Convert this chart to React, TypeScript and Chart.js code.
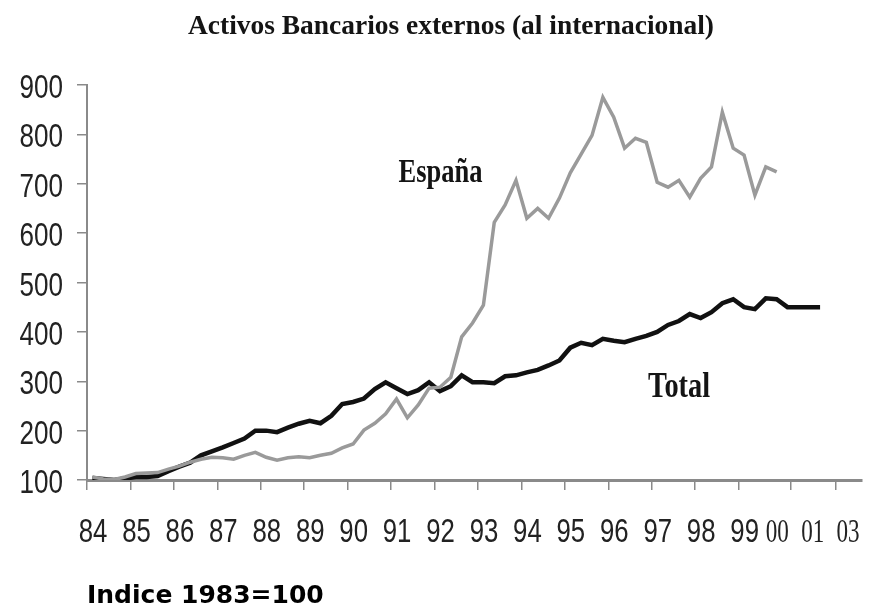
import React, { useEffect, useRef } from 'react';
import { Chart, registerables } from 'chart.js';

Chart.register(...registerables);

const TITLE = 'Activos Bancarios externos (al internacional)';
const FOOTNOTE = 'Indice 1983=100';

// Quarterly periods (year-quarter)
const periods = [
  '1984-1', '1984-2', '1984-3', '1984-4',
  '1985-1', '1985-2', '1985-3', '1985-4',
  '1986-1', '1986-2', '1986-3', '1986-4',
  '1987-1', '1987-2', '1987-3', '1987-4',
  '1988-1', '1988-2', '1988-3', '1988-4',
  '1989-1', '1989-2', '1989-3', '1989-4',
  '1990-1', '1990-2', '1990-3', '1990-4',
  '1991-1', '1991-2', '1991-3', '1991-4',
  '1992-1', '1992-2', '1992-3', '1992-4',
  '1993-1', '1993-2', '1993-3', '1993-4',
  '1994-1', '1994-2', '1994-3', '1994-4',
  '1995-1', '1995-2', '1995-3', '1995-4',
  '1996-1', '1996-2', '1996-3', '1996-4',
  '1997-1', '1997-2', '1997-3', '1997-4',
  '1998-1', '1998-2', '1998-3', '1998-4',
  '1999-1', '1999-2', '1999-3', '1999-4',
  '2000-1', '2000-2', '2000-3', '2000-4',
];

const totalValues = [
  104, 102, 100, 103,
  106, 106, 108, 118,
  127, 135, 150, 158,
  166, 175, 184, 200,
  200, 197, 206, 214,
  220, 215, 230, 254,
  258, 265, 284, 298,
  286, 274, 282, 298,
  280, 290, 312, 298,
  298, 296, 310, 312,
  318, 323, 332, 342,
  368, 378, 373, 386,
  382, 379, 386, 392,
  400, 414, 422, 436,
  428, 440, 458, 466,
  450, 446, 468, 466,
  450, 450, 450, 450,
];

const espanaValues = [
  106, 102, 101, 106,
  113, 114, 115, 122,
  128, 136, 142, 146,
  145, 142, 150, 156,
  146, 140, 145, 147,
  145, 150, 154, 165,
  173, 201, 215, 234,
  264, 226, 252, 286,
  288, 308, 390, 418,
  454, 622, 657, 707,
  630, 650, 630, 671,
  722, 760, 798, 875,
  835, 772, 792, 784,
  703, 693, 707, 673,
  711, 734, 845, 772,
  758, 677, 734, 724,
];

const yTicks = [100, 200, 300, 400, 500, 600, 700, 800, 900];
const xTickMarks = [1984, 1985, 1986, 1987, 1988, 1989, 1990, 1991, 1992, 1993, 1994, 1995, 1996, 1997, 1998, 1999, 2000.21, 2001.24];
const xLabels = ['84', '85', '86', '87', '88', '89', '90', '91', '92', '93', '94', '95', '96', '97', '98', '99', '00', '01', '03'];
const xLabelPositions = [1984, 1985, 1986, 1987, 1988, 1989, 1990, 1991, 1992, 1993, 1994, 1995, 1996, 1997, 1998, 1999, 1999.75, 2000.57, 2001.38];

const annLabels = ['España', 'Total'];
const annX = [1992.14, 1997.63];
const annY = [703, 268];

const toX = (p: string) => {
  const [y, q] = p.split('-').map(Number);
  return y + (q - 0.5) / 4;
};

function drawFitted(ctx: CanvasRenderingContext2D, text: string, cx: number, baseY: number, font: string, width: number) {
  ctx.save();
  ctx.font = font;
  const w = ctx.measureText(text).width;
  ctx.translate(cx, baseY);
  ctx.scale(width / w, 1);
  ctx.textAlign = 'center';
  ctx.textBaseline = 'alphabetic';
  ctx.fillText(text, 0, 0);
  ctx.restore();
}

function drawCondensed(ctx: CanvasRenderingContext2D, text: string, x: number, baseY: number, font: string, sx: number, align: CanvasTextAlign) {
  ctx.save();
  ctx.font = font;
  ctx.translate(x, baseY);
  ctx.scale(sx, 1);
  ctx.textAlign = align;
  ctx.textBaseline = 'alphabetic';
  ctx.fillText(text, 0, 0);
  ctx.restore();
}

const SANS = '33px "Liberation Sans", Arial, sans-serif';
const SERIF_TICK = '33px "Liberation Serif", serif';

const textPlugin = {
  id: 'texts',
  afterDraw(chart: any) {
    const { ctx, scales } = chart;
    const x = scales.x;
    const y = scales.y;
    ctx.save();
    ctx.fillStyle = '#141414';
    drawFitted(ctx, TITLE, 451, 34, 'bold 27px "Liberation Serif", serif', 526);
    const annFonts = ['bold 33px "Liberation Serif", serif', 'bold 35px "Liberation Serif", serif'];
    const annW = [84, 62];
    annLabels.forEach((t, i) => {
      drawFitted(ctx, t, x.getPixelForValue(annX[i]), y.getPixelForValue(annY[i]), annFonts[i], annW[i]);
    });

    // tick labels (condensed)
    ctx.fillStyle = '#222';
    yTicks.forEach((v) => {
      drawCondensed(ctx, String(v), 63, y.getPixelForValue(v) + 13, SANS, 0.79, 'right');
    });
    const labelBase = y.bottom + 62;
    xLabels.forEach((t, i) => {
      const px = x.getPixelForValue(xLabelPositions[i]) + 6;
      if (i >= 16) {
        drawCondensed(ctx, t, px, labelBase, SERIF_TICK, 0.7, 'center');
      } else {
        drawCondensed(ctx, t, px, labelBase, SANS, 0.78, 'center');
      }
    });

    ctx.font = 'bold 25px "DejaVu Sans", sans-serif';
    ctx.textAlign = 'left';
    ctx.textBaseline = 'alphabetic';
    ctx.fillStyle = '#000';
    ctx.fillText(FOOTNOTE, 87, 603);
    ctx.restore();
  },
};

const AXIS = '#8a8a8a';

export default function App() {
  const ref = useRef<HTMLCanvasElement>(null);
  useEffect(() => {
    if (!ref.current) return;
    const xs = periods.map(toX);
    const chart = new Chart(ref.current, {
      type: 'line',
      data: {
        datasets: [
          {
            label: 'España',
            data: espanaValues.map((v, i) => ({ x: xs[i], y: v })),
            borderColor: '#9a9a9a',
            borderWidth: 3.5,
            pointRadius: 0,
            tension: 0,
          },
          {
            label: 'Total',
            data: totalValues.map((v, i) => ({ x: xs[i], y: v })),
            borderColor: '#111111',
            borderWidth: 4.5,
            pointRadius: 0,
            tension: 0,
          },
        ],
      },
      options: {
        responsive: false,
        animation: false,
        layout: { padding: { top: 85, right: 13, bottom: 0, left: 0 } },
        plugins: { legend: { display: false }, tooltip: { enabled: false }, title: { display: false } },
        scales: {
          x: {
            type: 'linear',
            position: 'bottom',
            min: 1984,
            max: 2001.84,
            afterBuildTicks: (s: any) => {
              s.ticks = xTickMarks.map((v) => ({ value: v }));
            },
            afterFit: (s: any) => {
              s.height = 130;
            },
            ticks: { display: false },
            grid: { drawOnChartArea: false, drawTicks: true, tickLength: 10, color: AXIS, lineWidth: 1.5 },
            border: { display: true, color: AXIS, width: 3 },
          },
          y: {
            type: 'linear',
            min: 100,
            max: 900,
            afterBuildTicks: (s: any) => {
              s.ticks = yTicks.map((v) => ({ value: v }));
            },
            afterFit: (s: any) => {
              s.width = 87;
            },
            ticks: { display: false },
            grid: { drawOnChartArea: false, drawTicks: true, tickLength: 10, color: AXIS, lineWidth: 1.5 },
            border: { display: true, color: AXIS, width: 2 },
          },
        },
      },
      plugins: [textPlugin],
    });
    return () => chart.destroy();
  }, []);
  return (
    <div style={{ position: 'absolute', left: 0, top: 0, width: 875, height: 610, background: '#fff' }}>
      <canvas ref={ref} width={875} height={610} />
    </div>
  );
}
